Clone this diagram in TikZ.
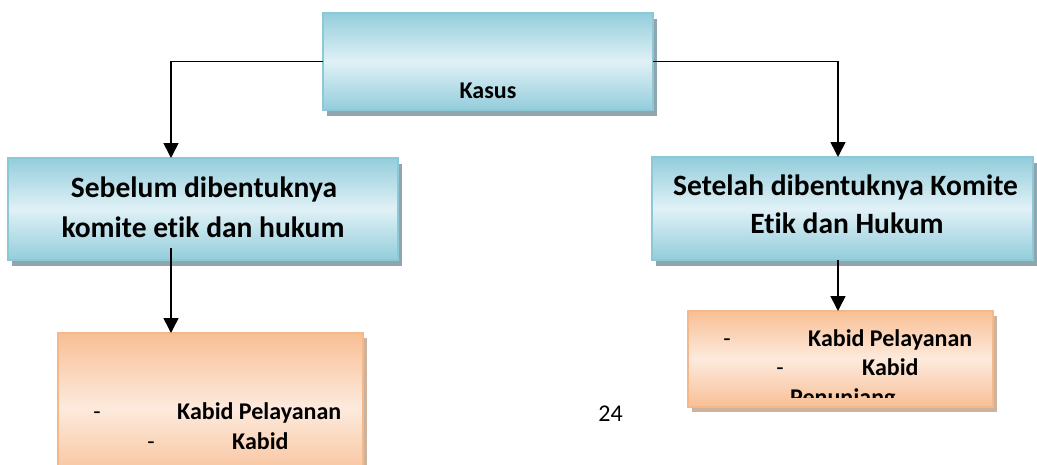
\documentclass[tikz,border=0pt]{standalone}
\usepackage{fontspec}
\setmainfont{Carlito}[Ligatures={NoCommon}]
\usetikzlibrary{arrows.meta,shadows}
\definecolor{bluedark}{HTML}{93CDDB}
\definecolor{bluelight}{HTML}{E0F1F6}
\definecolor{blueborder}{HTML}{8CC8D7}
\definecolor{blueshadow}{HTML}{8FA6AE}
\definecolor{orangedark}{HTML}{F8BF95}
\definecolor{orangelight}{HTML}{FDEADD}
\definecolor{orangeborder}{HTML}{F6B888}
\definecolor{orangeshadow}{HTML}{CDB39E}
\tikzset{
  boxbase/.style={rectangle, inner sep=0pt, outer sep=0pt, anchor=north west, line width=1.3pt},
  bluebox/.style={boxbase, draw=blueborder, shading=axis, shading angle=-40,
    top color=bluedark, bottom color=bluedark, middle color=bluelight,
    drop shadow={shadow xshift=3.5pt, shadow yshift=-5.5pt, fill=blueshadow, opacity=1}},
  orangebox/.style={boxbase, draw=orangeborder, shading=axis, shading angle=-40,
    top color=orangedark, bottom color=orangedark, middle color=orangelight,
    drop shadow={shadow xshift=3.5pt, shadow yshift=-4.5pt, fill=orangeshadow, opacity=1}},
  bigtext/.style={inner sep=0pt, anchor=base, font=\bfseries\fontsize{29.5}{36}\selectfont},
  smalltext/.style={inner sep=0pt, anchor=base west, font=\bfseries\fontsize{24}{30}\selectfont},
  midtext/.style={inner sep=0pt, anchor=base, font=\bfseries\fontsize{24}{30}\selectfont},
  dashtext/.style={inner sep=0pt, anchor=base, font=\fontsize{24}{30}\selectfont},
  conn/.style={line width=1.6pt, -{Triangle[width=15pt,length=15pt]}},
}
\begin{document}
\begin{tikzpicture}[x=1pt,y=-1pt]
\clip (0,0) rectangle (1037,464);
% boxes
\node[bluebox, minimum width=330pt, minimum height=97pt] (kasus) at (323,13) {};
\node[bluebox, minimum width=390pt, minimum height=102pt] (left) at (8,158) {};
\node[bluebox, minimum width=381pt, minimum height=103pt] (right) at (652,157) {};
\node[orangebox, minimum width=305pt, minimum height=150pt] (botl) at (58,333) {};
\node[orangebox, minimum width=305pt, minimum height=96pt] (botr) at (688,311) {};
% texts
\node[midtext] (tkasus) at (488,98) {Kasus};
\node[bigtext] (tl1) at (204,197) {Sebelum dibentuknya};
\node[bigtext] (tl2) at (203,237) {komite etik dan hukum};
\node[bigtext] (tr1) at (845.5,195) {Setelah dibentuknya Komite};
\node[bigtext] (tr2) at (847,233) {Etik dan Hukum};
\node[dashtext] (bld1) at (97,419) {-};
\node[smalltext] (blt1) at (177,419) {Kabid Pelayanan};
\node[dashtext] (bld2) at (151,449) {-};
\node[smalltext] (blt2) at (232,449) {Kabid};
\node[dashtext] (brd1) at (727,346) {-};
\node[smalltext] (brt1) at (808,346) {Kabid Pelayanan};
\node[dashtext] (brd2) at (780,375) {-};
\node[smalltext] (brt2) at (862,375) {Kabid};
\begin{scope}
\clip (688,311) rectangle (993,397);
\node[smalltext] (brt3) at (790,405) {Penunjang};
\end{scope}
\node[inner sep=0pt, anchor=base, font=\fontsize{24}{30}\selectfont] (page) at (610.5,421) {24};
% connectors
\coordinate (lx) at (171,0);
\coordinate (rx) at (838,0);
\coordinate (lstart) at (171,248);
\draw[conn] (kasus.west) -| (lx |- left.north);
\draw[conn] (kasus.east) -| (rx |- right.north);
\draw[conn] (lstart) -- (lstart |- botl.north);
\draw[conn] (rx |- right.south) -- (rx |- botr.north);
\end{tikzpicture}
\end{document}
